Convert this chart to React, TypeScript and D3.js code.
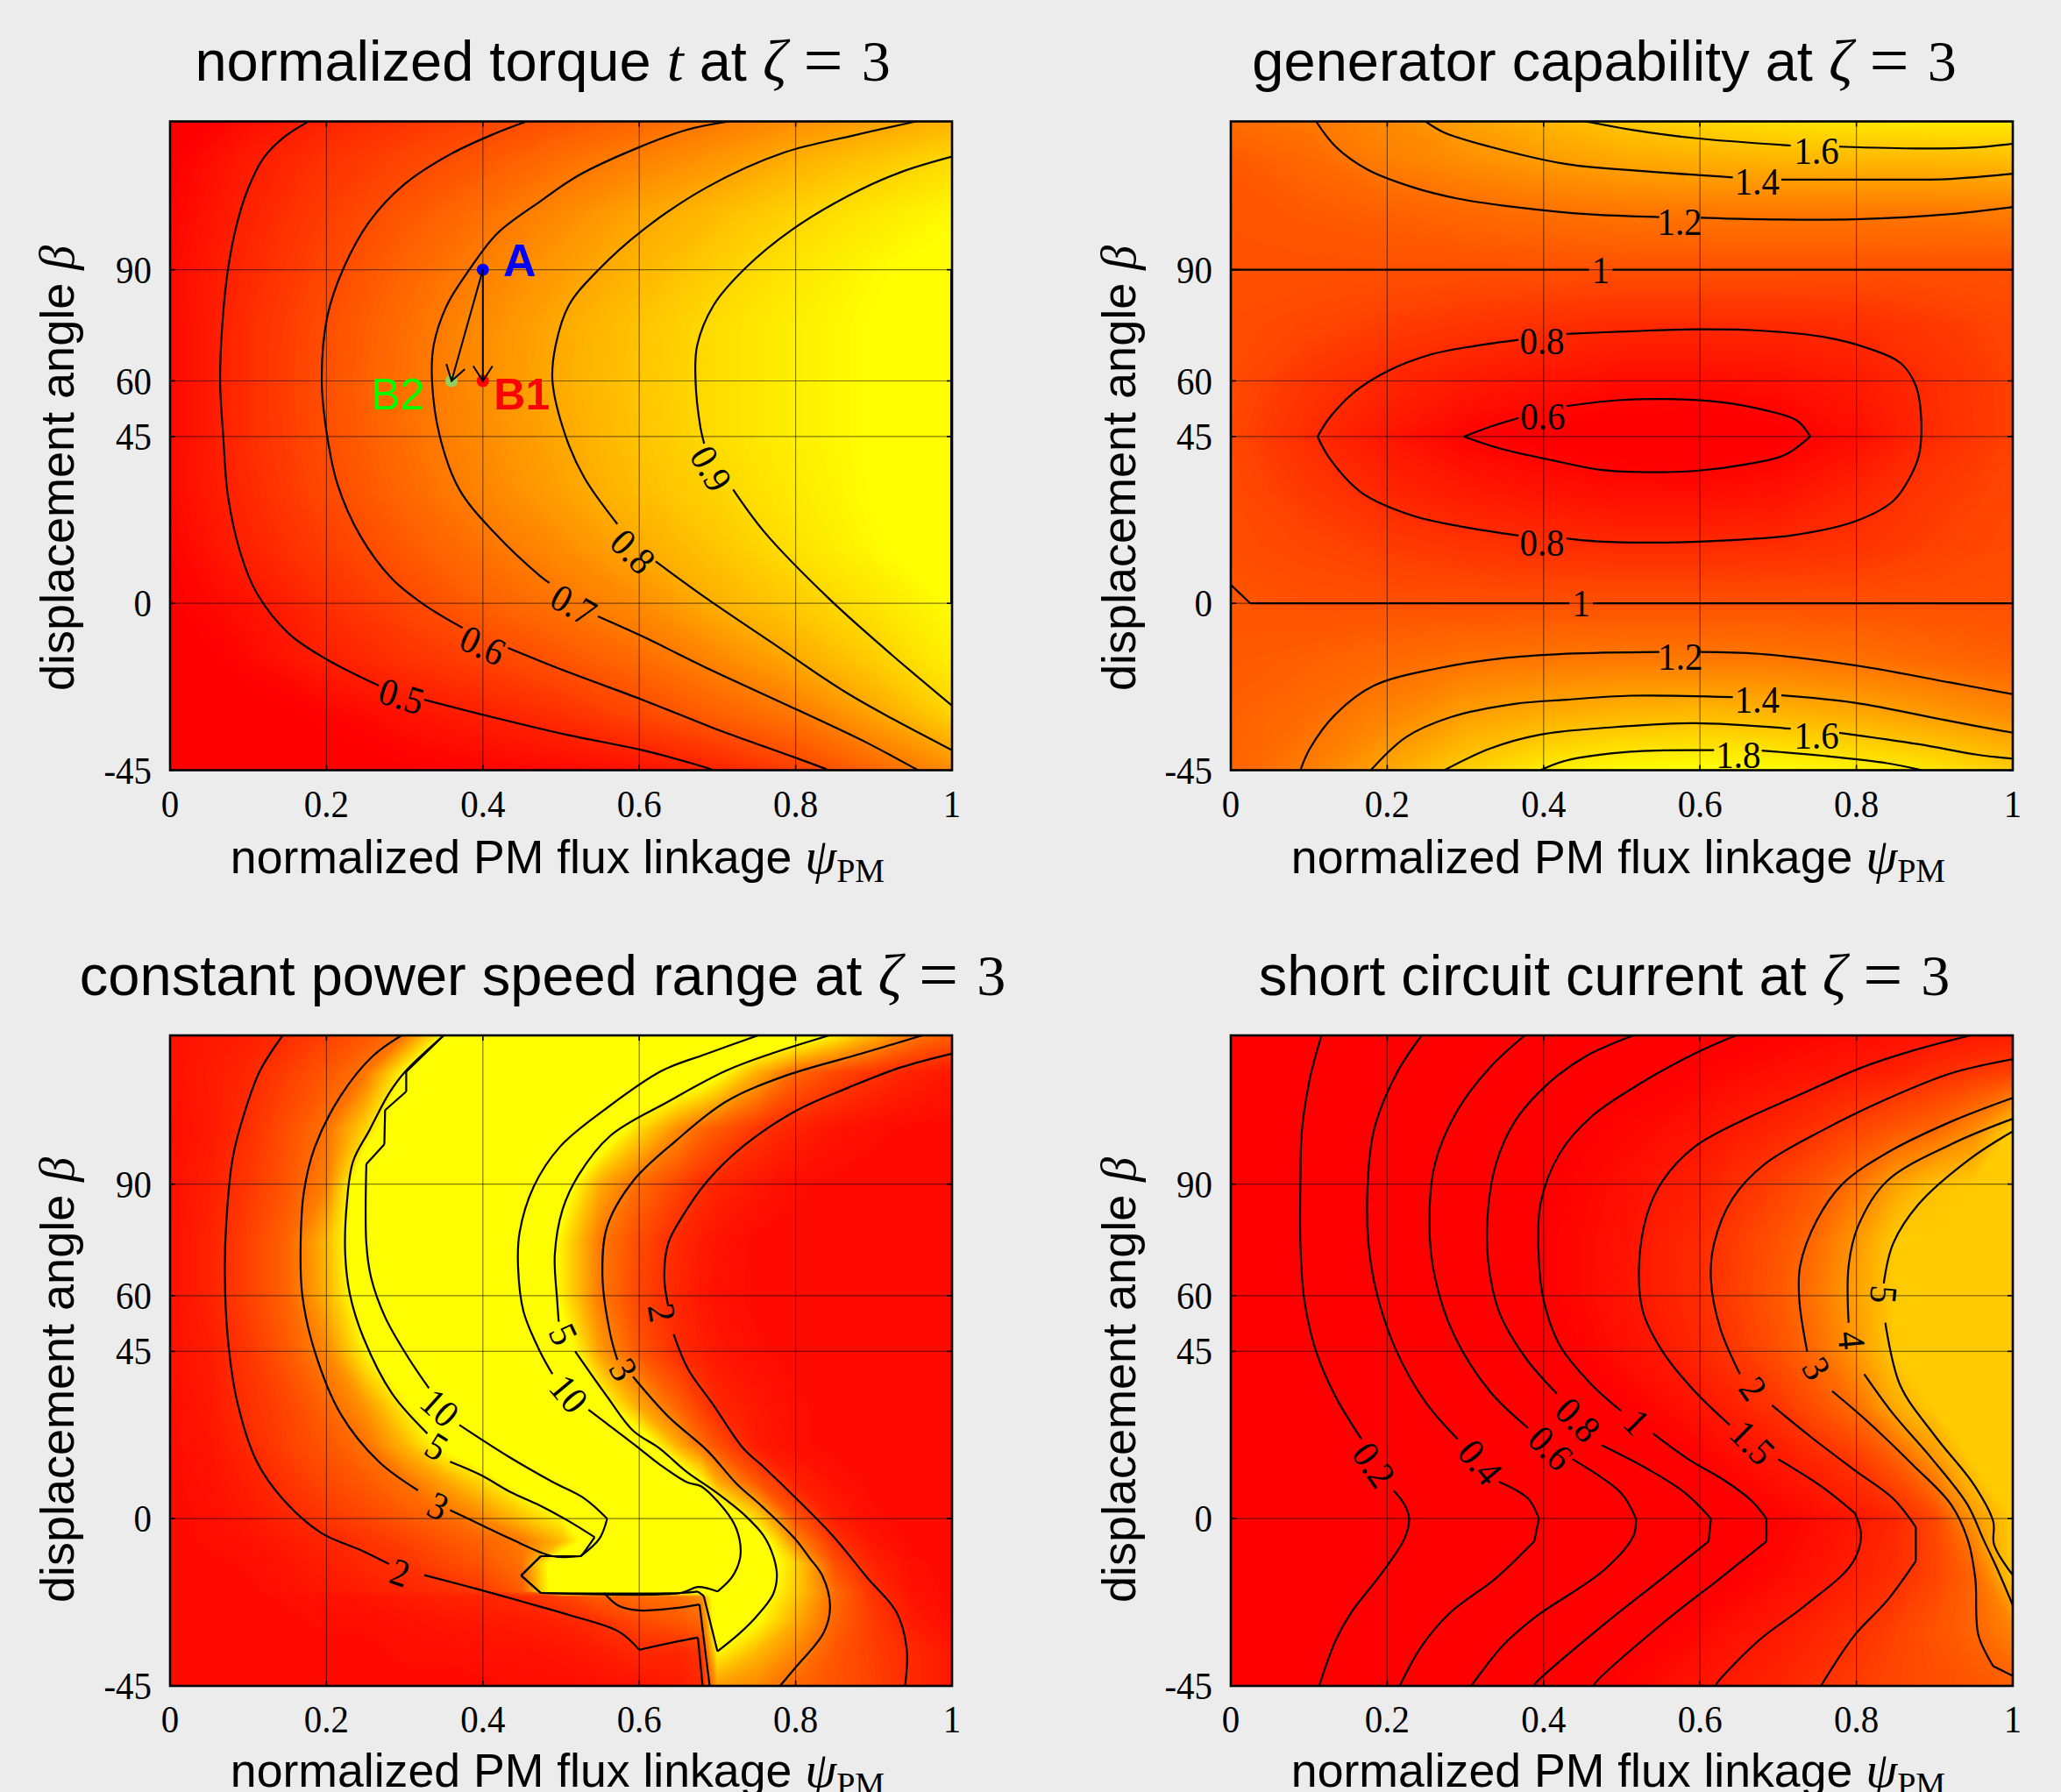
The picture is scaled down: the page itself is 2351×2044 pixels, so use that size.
import React from 'react';
import * as d3 from 'd3';

type Pt = [number, number];
type Lab = [string, number, number, number];

const psiTicks = [0, 0.2, 0.4, 0.6, 0.8, 1];
const psiTickText = ['0', '0.2', '0.4', '0.6', '0.8', '1'];
const betaTicks = [-45, 0, 45, 60, 90];
const betaRows = [-45, -30, -15, 0, 15, 30, 45, 60, 75, 90, 105, 120, 130];
const psiCols = [0, 0.1, 0.2, 0.3, 0.4, 0.5, 0.6, 0.7, 0.8, 0.9, 1];

// torque
const torqueGrid = [
  [.40, .41, .42, .43, .44, .45, .47, .505, .57, .65, .735],
  [.40, .42, .44, .47, .50, .535, .585, .64, .69, .785, .89],
  [.41, .45, .50, .54, .575, .615, .665, .725, .80, .875, .95],
  [.43, .47, .53, .585, .64, .685, .735, .815, .87, .925, .98],
  [.44, .505, .565, .625, .68, .735, .80, .86, .92, .97, 1],
  [.45, .52, .59, .655, .72, .78, .84, .89, .94, .98, 1],
  [.45, .53, .60, .67, .735, .795, .855, .91, .95, .98, 1],
  [.45, .53, .605, .675, .74, .805, .86, .91, .95, .98, 1],
  [.45, .53, .60, .67, .735, .80, .855, .91, .95, .98, 1],
  [.45, .52, .585, .65, .71, .77, .825, .88, .93, .97, 1],
  [.44, .505, .565, .62, .675, .73, .79, .84, .89, .935, .97],
  [.43, .49, .54, .58, .62, .67, .71, .755, .81, .855, .90],
  [.41, .46, .51, .545, .58, .615, .655, .695, .74, .78, .82],
];
const torqueLines: Pt[][] = [
  [[.177, 130], [.144, 125.5], [.119, 120], [.099, 111.5], [.085, 102], [.074, 90], [.067, 75.8], [.064, 60], [.068, 45], [.074, 29], [.09, 13.6], [.111, 2.7], [.152, -8.2], [.201, -15.2], [.267, -22.2]],
  [[.325, -26], [.399, -30], [.506, -35.4], [.604, -39.6], [.687, -44.4], [.695, -45]],
  [[.456, 130], [.415, 126.7], [.358, 121.1], [.30, 113.1], [.255, 103], [.222, 90.5], [.201, 77.3], [.194, 60], [.201, 45], [.214, 32.2], [.243, 18.3], [.284, 6.6], [.325, -.4], [.374, -6.6]],
  [[.432, -12], [.506, -18.3], [.604, -26], [.703, -34.3], [.785, -40.5], [.839, -44.7], [.842, -45]],
  [[.715, 130], [.662, 127.8], [.596, 122.7], [.522, 115.4], [.473, 108.4], [.419, 99.9], [.382, 89.8], [.354, 80.4], [.337, 69.5], [.335, 60], [.345, 45], [.37, 30.7], [.415, 19], [.473, 7.4], [.485, 5.5]],
  [[.547, -3.5], [.604, -8.9], [.687, -17.5], [.802, -28.7], [.892, -37.7], [.954, -44.7], [.957, -45]],
  [[.954, 130], [.876, 126.3], [.785, 121.6], [.687, 112.3], [.604, 100.6], [.547, 89.8], [.51, 80.4], [.493, 69.5], [.489, 60], [.506, 45], [.53, 33.8], [.572, 21.4]],
  [[.621, 11.3], [.687, 1.2], [.769, -10.5], [.868, -24.5], [1, -39.6]],
  [[1, 120.5], [.933, 116.2], [.868, 110], [.794, 100.6], [.736, 90.5], [.695, 80.4], [.674, 69.5], [.672, 60], [.678, 47.8], [.683, 43.1]],
  [[.72, 30.7], [.761, 19], [.843, 1.2], [.917, -12.8], [1, -27.6]],
  [[.999, 90], [.999, 60], [.999, 30], [.999, 0]],
];
const torqueLabels: Lab[] = [
  ['0.5', .296, -25, 17], ['0.6', .40, -11.3, 25], ['0.7', .516, -.4, 30], ['0.8', .592, 14, 45], ['0.9', .692, 36.4, 60],
];

// generator capability
const genGrid = [
  [1.1, 1.24, 1.45, 1.66, 1.82, 1.9, 1.92, 1.9, 1.85, 1.78, 1.65],
  [1.08, 1.15, 1.27, 1.41, 1.48, 1.53, 1.55, 1.53, 1.47, 1.39, 1.3],
  [1.05, 1.08, 1.13, 1.18, 1.2, 1.21, 1.21, 1.2, 1.17, 1.12, 1.08],
  [1.03, 1, 1, 1, 1, 1, 1, 1, 1, 1, 1],
  [.98, .95, .9, .86, .83, .81, .81, .82, .85, .92, .97],
  [.97, .88, .78, .72, .68, .65, .65, .67, .77, .88, .95],
  [.95, .81, .7, .6, .57, .55, .53, .57, .65, .81, .92],
  [.97, .86, .78, .72, .68, .65, .65, .66, .72, .82, .92],
  [.98, .95, .9, .86, .83, .8, .8, .8, .82, .88, .95],
  [1, 1, 1, 1, 1, 1, 1, 1, 1, 1, 1],
  [1.02, 1.05, 1.08, 1.12, 1.16, 1.185, 1.195, 1.195, 1.195, 1.2, 1.22],
  [1.05, 1.13, 1.25, 1.33, 1.4, 1.46, 1.5, 1.53, 1.55, 1.55, 1.57],
  [1.15, 1.2, 1.3, 1.42, 1.52, 1.63, 1.7, 1.75, 1.78, 1.8, 1.8],
];
const genLines: Pt[][] = [
  [[0, 90], [.458, 90]], [[.488, 90], [1, 90]],
  [[0, 5], [.025, 0], [.433, 0]], [[.463, 0], [1, 0]],
  [[.368, 71.1], [.314, 69.5], [.257, 67.2], [.199, 62.5], [.158, 57], [.126, 50], [.111, 45], [.126, 39.2], [.167, 29.9], [.232, 23.7], [.298, 20.6], [.368, 18.3]],
  [[.429, 72.7], [.511, 73.4], [.593, 73.9], [.675, 73.6], [.757, 71.9], [.815, 68.8], [.856, 64.9], [.876, 58.7], [.883, 49.2], [.88, 40], [.868, 33.8], [.847, 27.6], [.798, 22.1], [.716, 18.3], [.634, 17], [.552, 16.4], [.47, 16.7], [.429, 17.5]],
  [[.368, 50], [.331, 47.6], [.298, 45], [.347, 41.6], [.413, 38.5], [.47, 36.1], [.527, 35.4], [.593, 35.7], [.659, 37.5], [.708, 40], [.741, 45], [.724, 49.3], [.683, 52.1], [.626, 54.3], [.56, 55.1], [.495, 54.8], [.429, 53.2]],
  [[.109, 130], [.134, 123.2], [.175, 117], [.232, 112.3], [.29, 109.2], [.363, 106.9], [.454, 105], [.548, 104.2]], [[.601, 104], [.675, 103.6], [.798, 103.6], [.921, 105], [1, 106.9]],
  [[.249, 130], [.273, 127], [.331, 123.2], [.429, 118.5], [.527, 116.6], [.642, 114.9]], [[.704, 114.3], [.798, 114.3], [.921, 114.5], [1, 115.9]],
  [[.454, 130], [.511, 127.8], [.593, 125.5], [.716, 123.5]], [[.778, 123.2], [.88, 122.7], [.954, 123], [1, 124]],
  [[.089, -45], [.101, -39.2], [.134, -29.9], [.183, -22.2], [.265, -17.5], [.347, -14.8], [.429, -13.6], [.548, -13.1]], [[.601, -13.1], [.675, -13.6], [.798, -16.7], [.921, -21.4], [1, -24.5]],
  [[.179, -45], [.224, -36.1], [.281, -30.7], [.363, -27.1], [.429, -26], [.511, -24.9], [.642, -25.3]], [[.704, -24.8], [.798, -26.8], [.921, -31.8], [1, -34.9]],
  [[.273, -45], [.331, -39.2], [.396, -35.4], [.495, -33.3], [.593, -32.3], [.716, -33.8]], [[.778, -34.9], [.88, -38], [.954, -40.8], [1, -41.9]],
  [[.396, -45], [.429, -42.4], [.511, -40], [.618, -39.6]], [[.679, -39.7], [.757, -41.1], [.839, -43.1], [.884, -45]],
];
const genLabels: Lab[] = [
  ['1.6', .749, 122.1, 0], ['1.4', .673, 113.8, 0], ['1.2', .574, 103, 0], ['1', .473, 90, 0], ['0.8', .398, 70.8, 0], ['0.6', .399, 50.4, 0],
  ['0.8', .398, 16.4, 0], ['1', .448, 0, 0], ['1.2', .575, -14.4, 0], ['1.4', .673, -26, 0], ['1.6', .749, -35.7, 0], ['1.8', .649, -40.8, 0],
];

// constant power speed range
const speedCols = [0, .05, .1, .15, .2, .25, .3, .35, .4, .45, .5, .55, .6, .65, .68, .7, .75, .8, .85, .9, .95, 1];
const speedRows = [-45, -36, -28, -21, -19.5, -12, -6, 0, 10, 20, 30, 45, 60, 75, 90, 105, 120, 130];
const speedGrid = [
  [1.5, 1.5, 1.5, 1.5, 1.5, 1.5, 1.5, 1.5, 1.5, 1.55, 1.55, 1.6, 1.65, 1.75, 1.95, 3.6, 3.3, 2.85, 2.55, 2.3, 1.95, 1.7],
  [1.5, 1.5, 1.5, 1.5, 1.5, 1.5, 1.55, 1.55, 1.6, 1.6, 1.65, 1.75, 1.95, 1.9, 2.1, 4.9, 4, 3.3, 2.6, 2.25, 1.95, 1.7],
  [1.5, 1.5, 1.5, 1.5, 1.55, 1.55, 1.6, 1.65, 1.7, 1.75, 1.85, 2.05, 2.4, 2.6, 2.8, 5.8, 5, 3.8, 2.8, 2.2, 1.75, 1.55],
  [1.5, 1.5, 1.5, 1.55, 1.6, 1.65, 1.75, 1.85, 1.9, 2, 2.3, 2.7, 2.9, 3, 3.4, 6, 5.4, 4.2, 2.9, 2.1, 1.65, 1.5],
  [1.5, 1.5, 1.5, 1.6, 1.7, 1.8, 1.9, 2, 2.2, 2.7, 6, 6, 6, 6, 6, 6, 5.5, 4.3, 2.9, 2.05, 1.6, 1.5],
  [1.5, 1.5, 1.55, 1.65, 1.8, 1.95, 2.1, 2.35, 2.6, 3, 6, 6, 6, 6, 6, 6, 5.8, 4.4, 2.5, 1.85, 1.55, 1.5],
  [1.5, 1.55, 1.6, 1.75, 1.9, 2.1, 2.3, 2.55, 2.8, 3.1, 4, 6, 6, 6, 6, 6, 5.8, 3.3, 2.1, 1.65, 1.5, 1.5],
  [1.5, 1.55, 1.7, 1.9, 2.15, 2.35, 2.6, 2.85, 3.3, 4.1, 4.9, 5.9, 6, 6, 6, 6, 4.5, 2.6, 1.8, 1.55, 1.5, 1.5],
  [1.5, 1.6, 1.8, 2.1, 2.4, 2.65, 3, 3.7, 4.5, 5.4, 6, 6, 6, 6, 5, 3.8, 2.6, 1.85, 1.6, 1.5, 1.5, 1.5],
  [1.55, 1.65, 1.95, 2.3, 2.6, 3, 4, 5.2, 5.9, 6, 6, 6, 5.8, 3.8, 2.9, 2.5, 1.75, 1.55, 1.5, 1.5, 1.5, 1.5],
  [1.55, 1.7, 2.05, 2.35, 2.8, 3.5, 4.8, 5.8, 6, 6, 6, 5.4, 3.8, 2.8, 2.25, 1.95, 1.7, 1.55, 1.5, 1.5, 1.5, 1.5],
  [1.6, 1.75, 2.15, 2.65, 3.3, 4.9, 5.8, 6, 6, 6, 5.7, 3.6, 2.6, 2, 1.8, 1.7, 1.55, 1.5, 1.5, 1.5, 1.5, 1.5],
  [1.6, 1.85, 2.3, 2.8, 3.9, 5.6, 6, 6, 6, 6, 4.8, 3.1, 2.35, 1.9, 1.7, 1.6, 1.5, 1.5, 1.5, 1.5, 1.5, 1.5],
  [1.6, 1.85, 2.3, 2.8, 4, 6, 6, 6, 6, 6, 4.8, 3.1, 2.45, 1.95, 1.75, 1.65, 1.5, 1.5, 1.5, 1.5, 1.5, 1.5],
  [1.6, 1.8, 2.15, 2.6, 3.2, 6, 6, 6, 6, 6, 5.6, 3.8, 2.9, 2.35, 2.05, 1.9, 1.7, 1.55, 1.5, 1.5, 1.5, 1.5],
  [1.55, 1.72, 2.05, 2.5, 3, 4.4, 6, 6, 6, 6, 6, 6, 4.5, 3.4, 2.85, 2.65, 2.15, 1.85, 1.65, 1.55, 1.5, 1.5],
  [1.6, 1.75, 1.93, 2.25, 2.6, 3.05, 5, 6, 6, 6, 6, 6, 6, 6, 5.7, 5.2, 3.9, 2.85, 2.4, 2.1, 1.85, 1.7],
  [1.6, 1.7, 1.8, 2, 2.3, 2.6, 3.05, 5, 6, 6, 6, 6, 6, 6, 6, 6, 6, 5.6, 4.8, 3.9, 3.1, 2.7],
];
const speedLines: Pt[][] = [
  // 2
  [[.144, 130], [.115, 120.5], [.095, 109.1], [.08, 96.9], [.072, 80.1], [.07, 66.4], [.074, 48.1], [.086, 31.3], [.111, 15.3], [.144, 5.3], [.193, -3.8], [.243, -8.4], [.28, -12.2]],
  [[.325, -15.2], [.3975, -19.2], [.45, -22.3], [.51, -25.9], [.574, -30.4], [.6, -35.3], [.6525, -32.9], [.675, -32], [.681, -45]],
  [[1, 125.1], [.933, 121.3], [.868, 116], [.802, 109.9], [.736, 100.7], [.687, 90.8], [.654, 80.9], [.637, 74], [.632, 64.9], [.637, 57.2]],
  [[.644, 49.6], [.662, 40.4], [.695, 30.5], [.733, 18.9], [.7575, 14.2], [.8, 5.6], [.8475, -4.6], [.892, -16], [.929, -25.2], [.942, -35], [.94, -45]],
  // 3
  [[.296, 130], [.259, 124.4], [.218, 113.7], [.185, 99.9], [.171, 87.7], [.167, 74], [.169, 60.3], [.185, 45], [.218, 28.2], [.267, 15.3], [.317, 7.6]],
  [[.358, 2.3], [.3975, -1.65], [.435, -5.4], [.489, -10.1], [.525, -10.1]],
  [[.555, -20], [.574, -23.5], [.6, -24.7], [.6525, -23.9], [.677, -23.1], [.69, -45]],
  [[.962, 130], [.884, 125.1], [.785, 119], [.711, 112.2], [.646, 101.5], [.592, 90.8], [.559, 78.6], [.553, 64.9], [.563, 49.6], [.572, 42.7]],
  [[.592, 38.2], [.637, 27.5], [.687, 18.3], [.724, 9.5], [.7575, 3.2], [.799, -5.4], [.8175, -10.5], [.834, -15.3], [.844, -23.5], [.836, -30.6], [.8, -40], [.78, -45]],
  // 5
  [[.35, 130], [.30, 120.1], [.28, 114.4], [.255, 104.5], [.234, 96.1], [.226, 84.7], [.224, 71], [.23, 60.3], [.247, 48.8], [.284, 33.6], [.329, 22.9]],
  [[.358, 15.3], [.3975, 11.7], [.435, 7.2], [.4725, 3.6], [.51, -.7], [.543, -5], [.527, -9.7], [.525, -10.1], [.474, -10.1], [.449, -15.3], [.474, -20], [.653, -20], [.675, -19.6]],
  [[.843, 130], [.769, 125.1], [.711, 120.5], [.637, 112.2], [.563, 103], [.522, 92.3], [.502, 83.2], [.492, 71], [.495, 58.8], [.497, 53]],
  [[.518, 45], [.559, 32.8], [.592, 23.7], [.626, 18.9], [.66, 12.7], [.6975, 7.2], [.735, .9], [.759, -4.6], [.772, -10.5], [.776, -15.6], [.771, -20.4], [.75, -26.3], [.7275, -31], [.7, -35.7], [.6825, -20.8], [.675, -19.6]],
  // 10
  [[.35, 130], [.302, 120.2], [.302, 114.9], [.275, 109.9], [.274, 100.7], [.251, 95.4], [.251, 74], [.257, 64.9], [.275, 54.2], [.304, 43.5], [.331, 35.1]],
  [[.37, 25.2], [.432, 16.8], [.489, 9.9], [.53, 5.4], [.559, 0], [.549, -5.4], [.525, -10.1], [.474, -10.1], [.449, -15.3], [.474, -20], [.653, -20], [.675, -18.4], [.7, -19.6], [.719, -15.6], [.729, -10.5], [.728, -5.4], [.718, -.15], [.679, 8.7], [.662, 9.7], [.626, 14.6], [.6, 18.9], [.58, 22.1], [.535, 29.3]],
  [[.752, 130], [.687, 125.1], [.629, 120.5], [.555, 109.9], [.498, 99.9], [.465, 89.3], [.447, 77], [.445, 67.9], [.452, 55.7], [.473, 45], [.489, 38.9]],
];
const speedLabels: Lab[] = [
  ['2', .294, -14.5, 18], ['3', .343, 3.4, 25], ['5', .341, 19.4, 32], ['10', .345, 29.8, 42], ['5', .503, 49.6, 65], ['10', .51, 33.6, 50], ['3', .58, 40.1, 60], ['2', .629, 55.4, 80],
];

// short circuit current
const shortCols = [0, .4, .45, .5, .55, .6, .65, .7, .75, .8, .85, .9, .95, 1];
const shortGrid = [
  [.1, .85, .97, 1.1, 1.25, 1.42, 1.6, 1.75, 1.97, 2.2, 2.4, 2.55, 2.7, 2.9],
  [.1, .72, .8, .9, 1.03, 1.17, 1.35, 1.53, 1.75, 1.97, 2.3, 2.65, 3, 3.6],
  [.1, .4, .48, .55, .65, .85, 1.03, 1.2, 1.38, 1.65, 1.92, 2.35, 3, 5],
  [.1, .4, .5, .6, .68, .78, .9, 1.07, 1.25, 1.48, 1.8, 2.4, 4, 5],
  [.1, .55, .65, .78, .9, 1.05, 1.25, 1.45, 1.75, 2.1, 2.75, 3.85, 5, 5],
  [.1, .75, .9, 1.02, 1.2, 1.42, 1.7, 2.05, 2.6, 3.2, 4.4, 5, 5, 5],
  [.1, .93, 1.08, 1.3, 1.5, 1.8, 2.15, 2.6, 3.15, 4, 5, 5, 5, 5],
  [.1, 1.02, 1.2, 1.4, 1.65, 1.9, 2.3, 2.75, 3.35, 4.2, 5, 5, 5, 5],
  [.1, 1.02, 1.2, 1.35, 1.65, 1.85, 2.25, 2.65, 3.15, 4, 5, 5, 5, 5],
  [.1, .97, 1.15, 1.3, 1.5, 1.65, 1.95, 2.3, 2.7, 3.3, 4.2, 4.8, 5, 5],
  [.1, .9, 1.02, 1.15, 1.25, 1.4, 1.58, 1.75, 2, 2.35, 2.7, 3, 3.7, 5],
  [.1, .72, .82, .92, 1, 1.1, 1.2, 1.3, 1.4, 1.52, 1.65, 1.9, 2.1, 2.3],
  [.1, .6, .7, .8, .87, .94, 1, 1.08, 1.15, 1.25, 1.33, 1.42, 1.5, 1.6],
];
const shortLines: Pt[][] = [
  // 0.2
  [[.116, 130], [.101, 118.3], [.091, 104.5], [.089, 90], [.089, 74], [.094, 58.8], [.109, 45], [.134, 32.8], [.167, 21.4]],
  [[.208, 7.6], [.222, 3.8], [.228, 0], [.222, -5.4], [.191, -15.2], [.154, -25.2], [.134, -32.8], [.113, -45]],
  // 0.4
  [[.244, 130], [.212, 119.8], [.183, 104.5], [.175, 90], [.176, 74], [.187, 60.3], [.212, 45], [.249, 31.3], [.29, 21.4]],
  [[.343, 9.9], [.38, 5.4], [.394, 0], [.388, -6.1], [.339, -16], [.281, -25.2], [.244, -34.3], [.216, -45]],
  // 0.6
  [[.376, 130], [.331, 121.3], [.29, 109.9], [.261, 95.4], [.254, 78.6], [.261, 64.9], [.285, 49.6], [.331, 34.3], [.38, 24.4]],
  [[.437, 16], [.499, 6.9], [.518, 0], [.515, -4.6], [.478, -13.7], [.388, -26.7], [.347, -34.3], [.31, -44.2], [.307, -45]],
  // 0.8
  [[.515, 130], [.454, 124.4], [.404, 116.7], [.363, 106.8], [.339, 95.4], [.329, 83.2], [.329, 69.4], [.343, 55.7], [.376, 43.5], [.417, 33.6]],
  [[.474, 19.8], [.536, 13], [.581, 6.9], [.614, 0], [.611, -6.1], [.552, -16], [.47, -29.7], [.39, -44.2], [.388, -45]],
  // 1
  [[.646, 130], [.593, 125.1], [.527, 117.5], [.462, 108.3], [.421, 98.4], [.396, 84.7], [.394, 69.4], [.40, 58.8], [.421, 46.5], [.462, 35.9], [.499, 29]],
  [[.54, 22.9], [.585, 16], [.634, 9.9], [.667, 4.6], [.685, 0], [.685, -6.1], [.626, -16], [.552, -28.2], [.466, -44.2], [.464, -45]],
  // 1.5
  [[.946, 130], [.872, 125.9], [.806, 121.3], [.724, 113.7], [.659, 107.6], [.593, 100], [.552, 90.8], [.532, 81.6], [.522, 67.9], [.527, 55.7], [.552, 45], [.593, 34.3], [.638, 25.2]],
  [[.70, 16], [.757, 8.4], [.798, 1.5], [.806, -4.6], [.794, -12.2], [.733, -23.6], [.675, -32.8], [.622, -44.2], [.62, -45]],
  // 2
  [[1, 123.6], [.921, 119.8], [.839, 112.9], [.757, 104.5], [.683, 95.4], [.642, 86.2], [.618, 74], [.614, 64.1], [.626, 51.1], [.651, 38.9]],
  [[.692, 30.5], [.741, 22.1], [.798, 13], [.847, 5.4], [.876, -2.3], [.876, -11.4], [.839, -22.1], [.798, -31.3], [.757, -44.2], [.755, -45]],
  // 3
  [[1, 113.2], [.921, 106.8], [.839, 98.4], [.782, 90], [.749, 80.1], [.728, 67.9], [.727, 58.8], [.737, 45]],
  [[.769, 34.3], [.815, 26], [.872, 14.5], [.921, 3.8], [.942, -5.4], [.952, -16], [.956, -31.3], [.975, -39.7], [1, -42.3]],
  // 4
  [[1, 107.6], [.921, 100.7], [.839, 90.8], [.802, 78.6], [.79, 67.9], [.79, 52.7]],
  [[.81, 38.9], [.847, 28.2], [.897, 16], [.942, 3.8], [.962, -5.4], [.979, -13], [1, -23.3]],
  // 5
  [[1, 104.2], [.946, 96.9], [.88, 84.7], [.847, 74], [.835, 63.3]],
  [[.837, 52.7], [.856, 35.9], [.901, 22.1], [.95, 9.2], [.975, -.8], [.976, -6.9], [1, -15.2]],
];
const shortLabels: Lab[] = [
  ['0.2', .183, 14.5, 55], ['0.4', .319, 15.2, 50], ['0.6', .409, 19, 45], ['0.8', .444, 26.6, 45], ['1', .519, 26, 45],
  ['1.5', .667, 20.5, 45], ['2', .668, 35, 55], ['3', .749, 40.4, 60], ['4', .794, 48, 85], ['5', .835, 60.3, 95],
];

// operating points on the torque map
const pointA: Pt = [0.4, 90];
const pointB1: Pt = [0.4, 60];
const pointB2: Pt = [0.36, 60];

const serif = '"Liberation Serif"';
const sans = '"Liberation Sans"';
const W = 892, H1 = 740, H2 = 742;

function Heat({ grid, cols, rows, lo, hi, x, y, id }: any) {
  const ny = grid.length, nx = grid[0].length;
  const color = d3.scaleLinear<string>().domain([lo, hi]).range(['#ff0000', '#ffff00']).clamp(true);
  const ix = d3.scaleLinear().domain(d3.range(nx)).range(cols).clamp(true);
  const iy = d3.scaleLinear().domain(d3.range(ny)).range(rows).clamp(true);
  const path = d3.geoPath(d3.geoTransform({
    point(a: number, b: number) { (this as any).stream.point(x(ix(a - 0.5)), y(iy(b - 0.5))); },
  }));
  const levels = d3.range(90).map(i => lo + (hi - lo) * (i + 0.5) / 90);
  const bands = d3.contours().size([nx, ny]).smooth(true).thresholds(levels)(grid.flat());
  return (
    <g clipPath={`url(#${id})`}>
      <rect x={x(0)} y={y(130)} width={x(1) - x(0)} height={y(-45) - y(130)} fill={color(lo)} />
      {bands.map((b: any, i: number) => <path key={i} d={path(b) || ''} fill={color(b.value)} />)}
    </g>
  );
}

// contour lines are smoothed, but real corners in them stay sharp
function splitAtCorners(pts: number[][]) {
  const runs: number[][][] = [];
  let cur = [pts[0]];
  for (let i = 1; i < pts.length; i++) {
    cur.push(pts[i]);
    if (i < pts.length - 1) {
      const a = Math.atan2(pts[i][1] - pts[i - 1][1], pts[i][0] - pts[i - 1][0]);
      const b = Math.atan2(pts[i + 1][1] - pts[i][1], pts[i + 1][0] - pts[i][0]);
      let turn = Math.abs(a - b);
      if (turn > Math.PI) turn = 2 * Math.PI - turn;
      if (turn > 0.6) { runs.push(cur); cur = [pts[i]]; }
    }
  }
  runs.push(cur);
  return runs;
}

function Panel({ left, top, height, title, titleX, titleY, ylabelX, ylabelY, xlabelX, xlabelY, grid, cols, rows, lo, hi, lines, labels, id, children }: any) {
  const x = d3.scaleLinear().domain([0, 1]).range([left, left + W]);
  const y = d3.scaleLinear().domain([-45, 130]).range([top + height, top]);
  const line = d3.line<number[]>().x(d => d[0]).y(d => d[1]).curve(d3.curveCatmullRom.alpha(0.5));
  const contourPath = (l: Pt[]) => splitAtCorners(l.map(p => [x(p[0]), y(p[1])])).map(r => line(r)).join('');
  return (
    <g>
      <clipPath id={id}><rect x={left} y={top} width={W} height={height} /></clipPath>
      <Heat grid={grid} cols={cols} rows={rows} lo={lo} hi={hi} x={x} y={y} id={id} />
      <g stroke="#000" strokeOpacity={0.5} strokeWidth={1.2}>
        {psiTicks.slice(1, -1).map(t => <line key={t} x1={x(t)} x2={x(t)} y1={top} y2={top + height} />)}
        {betaTicks.slice(1).map(t => <line key={t} x1={left} x2={left + W} y1={y(t)} y2={y(t)} />)}
      </g>
      <g fill="none" stroke="#000" strokeWidth={2.2} clipPath={`url(#${id})`}>
        {lines.map((l: Pt[], i: number) => <path key={i} d={contourPath(l)} />)}
      </g>
      {labels.map((l: Lab, i: number) => (
        <text key={i} fontFamily={serif} fontSize={44} textAnchor="middle" dominantBaseline="central"
          transform={`translate(${x(l[1])},${y(l[2])}) rotate(${l[3]}) scale(.93,1)`}>{l[0]}</text>
      ))}
      {children && children(x, y)}
      <g stroke="#000" strokeWidth={1.6}>
        {psiTicks.map(t => <g key={t}><line x1={x(t)} x2={x(t)} y1={top} y2={top + 6} /><line x1={x(t)} x2={x(t)} y1={top + height} y2={top + height - 6} /></g>)}
        {betaTicks.map(t => <g key={t}><line x1={left} x2={left + 6} y1={y(t)} y2={y(t)} /><line x1={left + W} x2={left + W - 6} y1={y(t)} y2={y(t)} /></g>)}
      </g>
      <rect x={left} y={top} width={W} height={height} fill="none" stroke="#000" strokeWidth={2.6} />
      {psiTicks.map((t, i) => <text key={t} transform={`translate(${x(t)},${top + height + 53}) scale(.93,1)`} fontFamily={serif} fontSize={44} textAnchor="middle">{psiTickText[i]}</text>)}
      {betaTicks.map(t => <text key={t} transform={`translate(${left - 21},${y(t) + 15}) scale(.93,1)`} fontFamily={serif} fontSize={44} textAnchor="end">{t}</text>)}
      <text x={titleX} y={titleY} fontFamily={sans} fontSize={65} textAnchor="middle">{title}</text>
      <text x={xlabelX} y={xlabelY} fontFamily={sans} fontSize={53.6} textAnchor="middle">
        normalized PM flux linkage <tspan fontFamily={serif} fontStyle="italic" fontSize={58}>ψ</tspan><tspan fontFamily={serif} fontSize={38} dy={10}>PM</tspan>
      </text>
      <text transform={`translate(${ylabelX},${ylabelY}) rotate(-90)`} fontFamily={sans} fontSize={54} textAnchor="middle">
        displacement angle <tspan fontFamily={serif} fontStyle="italic" fontSize={56}>β</tspan>
      </text>
    </g>
  );
}

const zeta = (
  <tspan fontFamily={serif}>
    <tspan fontStyle="italic" fontSize={68}>ζ</tspan>
    <tspan dx={19} dy={4} fontSize={80}>=</tspan>
    <tspan dx={21} dy={-4} fontSize={66}>3</tspan>
  </tspan>
);

function Points(x: any, y: any) {
  return (
    <g>
      <circle cx={x(pointA[0])} cy={y(pointA[1])} r={7} fill="#0000ff" />
      <circle cx={x(pointB1[0])} cy={y(pointB1[1])} r={7} fill="#ff0000" />
      <circle cx={x(pointB2[0])} cy={y(pointB2[1])} r={7} fill="#8fd35f" />
      <line x1={x(pointA[0])} y1={y(pointA[1])} x2={x(pointB1[0])} y2={y(pointB1[1])} stroke="#000" strokeWidth={2} markerEnd="url(#head)" />
      <line x1={x(pointA[0])} y1={y(pointA[1])} x2={x(pointB2[0])} y2={y(pointB2[1])} stroke="#000" strokeWidth={2} markerEnd="url(#head)" />
      <text x={x(.426)} y={y(88.2)} fontFamily={sans} fontWeight="bold" fontSize={52} fill="#0000ff">A</text>
      <text x={x(.414)} y={y(52.3)} fontFamily={sans} fontWeight="bold" fontSize={50} fill="#ff0000">B1</text>
      <text x={x(.257)} y={y(52.3)} fontFamily={sans} fontSize={50} fill="#00ff00">B2</text>
    </g>
  );
}

export default function App() {
  return (
    <svg width={2351} height={2044} style={{ position: 'fixed', left: 0, top: 0, background: '#ececec' }}>
      <defs>
        <marker id="head" markerUnits="userSpaceOnUse" markerWidth={40} markerHeight={40} refX={20} refY={20} orient="auto">
          <path d="M3,9 L20,20 L3,31" fill="none" stroke="#000" strokeWidth={2} />
        </marker>
      </defs>
      <Panel id="p1" left={194} top={138.5} height={H1} titleX={619} titleY={91.5} ylabelX={84} ylabelY={534} xlabelX={636} xlabelY={996}
        title={<>normalized torque <tspan fontFamily={serif} fontStyle="italic" fontSize={68}>t</tspan> at {zeta}</>}
        grid={torqueGrid} cols={psiCols} rows={betaRows} lo={.43} hi={.98} lines={torqueLines} labels={torqueLabels}>{Points}</Panel>
      <Panel id="p2" left={1404} top={138.5} height={H1} titleX={1830} titleY={91.5} ylabelX={1295} ylabelY={534} xlabelX={1846} xlabelY={996}
        title={<>generator capability at {zeta}</>}
        grid={genGrid} cols={psiCols} rows={betaRows} lo={.58} hi={1.9} lines={genLines} labels={genLabels} />
      <Panel id="p3" left={194} top={1181} height={H2} titleX={619} titleY={1134.5} ylabelX={84} ylabelY={1574} xlabelX={636} xlabelY={2038}
        title={<>constant power speed range at {zeta}</>}
        grid={speedGrid} cols={speedCols} rows={speedRows} lo={1.35} hi={5} lines={speedLines} labels={speedLabels} />
      <Panel id="p4" left={1404} top={1181} height={H2} titleX={1830} titleY={1134.5} ylabelX={1295} ylabelY={1574} xlabelX={1846} xlabelY={2038}
        title={<>short circuit current at {zeta}</>}
        grid={shortGrid} cols={shortCols} rows={betaRows} lo={1} hi={6} lines={shortLines} labels={shortLabels} />
    </svg>
  );
}
